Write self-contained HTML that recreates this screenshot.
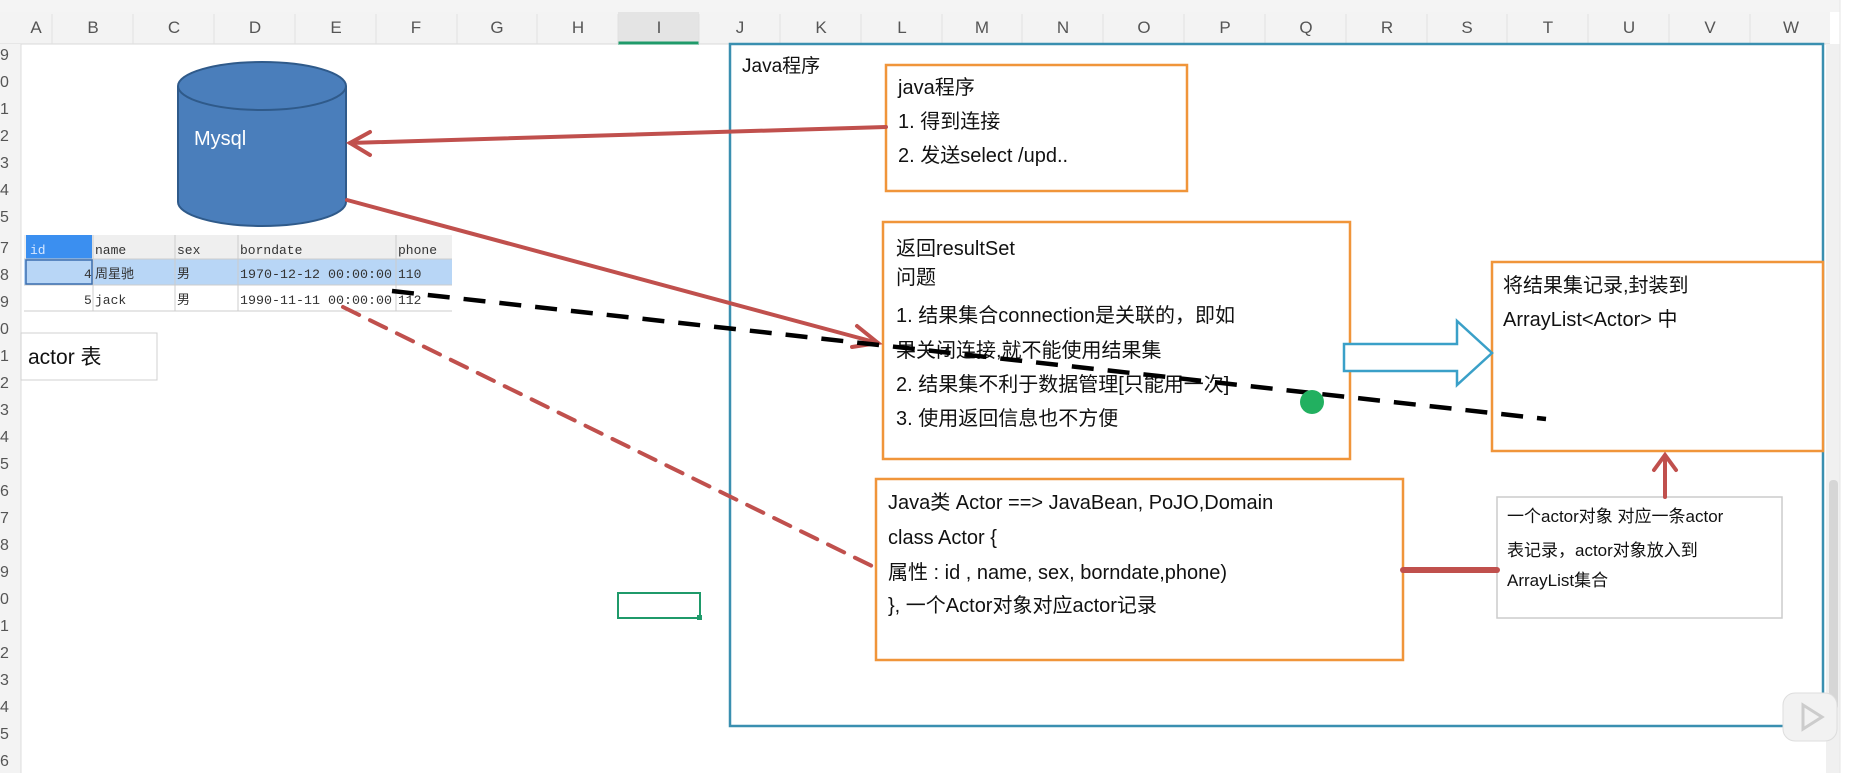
<!DOCTYPE html>
<html><head><meta charset="utf-8"><style>
html,body{margin:0;padding:0;background:#fff;}
body{width:1864px;height:773px;overflow:hidden;position:relative;font-family:"Liberation Sans","Noto Sans CJK SC",sans-serif;}
svg{position:absolute;left:0;top:0;}
text{font-family:"Liberation Sans","Noto Sans CJK SC",sans-serif;}
.m{font-family:"Liberation Mono","Noto Sans CJK SC",monospace;font-size:13px;fill:#333;}
.b{font-size:20px;fill:#111;}
</style></head><body>
<svg width="1864" height="773" viewBox="0 0 1864 773">
<rect x="0" y="0" width="1864" height="12" fill="#f4f4f4"/>
<rect x="0" y="12" width="1830" height="32" fill="#f3f3f3"/>
<line x1="0" y1="44" x2="1830" y2="44" stroke="#d8d8d8"/>
<rect x="618" y="12" width="81" height="32" fill="#e4e4e4"/>
<line x1="618" y1="43" x2="699" y2="43" stroke="#1f9a6a" stroke-width="3"/>
<g fill="#555" font-size="17" text-anchor="middle">
<text x="36" y="33">A</text><text x="93" y="33">B</text><text x="174" y="33">C</text><text x="255" y="33">D</text><text x="336" y="33">E</text><text x="416" y="33">F</text><text x="497" y="33">G</text><text x="578" y="33">H</text><text x="659" y="33">I</text><text x="740" y="33">J</text><text x="821" y="33">K</text><text x="902" y="33">L</text><text x="982" y="33">M</text><text x="1063" y="33">N</text><text x="1144" y="33">O</text><text x="1225" y="33">P</text><text x="1306" y="33">Q</text><text x="1387" y="33">R</text><text x="1467" y="33">S</text><text x="1548" y="33">T</text><text x="1629" y="33">U</text><text x="1710" y="33">V</text><text x="1791" y="33">W</text>
</g>
<g stroke="#e0e0e0">
<line x1="52" y1="14" x2="52" y2="44"/><line x1="133" y1="14" x2="133" y2="44"/><line x1="214" y1="14" x2="214" y2="44"/><line x1="295" y1="14" x2="295" y2="44"/><line x1="376" y1="14" x2="376" y2="44"/><line x1="457" y1="14" x2="457" y2="44"/><line x1="537" y1="14" x2="537" y2="44"/><line x1="618" y1="14" x2="618" y2="44"/><line x1="699" y1="14" x2="699" y2="44"/><line x1="780" y1="14" x2="780" y2="44"/><line x1="861" y1="14" x2="861" y2="44"/><line x1="942" y1="14" x2="942" y2="44"/><line x1="1022" y1="14" x2="1022" y2="44"/><line x1="1103" y1="14" x2="1103" y2="44"/><line x1="1184" y1="14" x2="1184" y2="44"/><line x1="1265" y1="14" x2="1265" y2="44"/><line x1="1346" y1="14" x2="1346" y2="44"/><line x1="1427" y1="14" x2="1427" y2="44"/><line x1="1507" y1="14" x2="1507" y2="44"/><line x1="1588" y1="14" x2="1588" y2="44"/><line x1="1669" y1="14" x2="1669" y2="44"/><line x1="1750" y1="14" x2="1750" y2="44"/>
</g>
<rect x="0" y="44" width="21" height="729" fill="#f3f3f3"/>
<line x1="21" y1="44" x2="21" y2="773" stroke="#ddd"/>
<g fill="#555" font-size="16">
<text x="0" y="60">9</text><text x="0" y="87">0</text><text x="0" y="114">1</text><text x="0" y="141">2</text><text x="0" y="168">3</text><text x="0" y="195">4</text><text x="0" y="222">5</text><text x="0" y="253">7</text><text x="0" y="280">8</text><text x="0" y="307">9</text><text x="0" y="334">0</text><text x="0" y="361">1</text><text x="0" y="388">2</text><text x="0" y="415">3</text><text x="0" y="442">4</text><text x="0" y="469">5</text><text x="0" y="496">6</text><text x="0" y="523">7</text><text x="0" y="550">8</text><text x="0" y="577">9</text><text x="0" y="604">0</text><text x="0" y="631">1</text><text x="0" y="658">2</text><text x="0" y="685">3</text><text x="0" y="712">4</text><text x="0" y="739">5</text><text x="0" y="766">6</text>
</g>
<rect x="1826" y="44" width="14" height="729" fill="#f0f0f0"/>
<rect x="1829" y="480" width="9" height="230" rx="4" fill="#d6d6d6"/>
<rect x="1840" y="0" width="24" height="773" fill="#fff"/>
<line x1="1840" y1="0" x2="1840" y2="773" stroke="#e6e6e6"/>

<rect x="730" y="44" width="1093" height="682" fill="none" stroke="#3a8fb0" stroke-width="2.5"/>
<text x="742" y="72" font-size="19" fill="#111">Java程序</text>

<path d="M178 86 L178 202 A84 24 0 0 0 346 202 L346 86" fill="#4a7ebb" stroke="#2f5a8a" stroke-width="2"/>
<ellipse cx="262" cy="86" rx="84" ry="24" fill="#4a7ebb" stroke="#2f5a8a" stroke-width="2"/>
<text x="194" y="145" font-size="20" fill="#fff">Mysql</text>

<rect x="24" y="235" width="428" height="76" fill="#fff"/>
<rect x="24" y="235" width="428" height="24" fill="#efefef"/>
<rect x="26" y="235" width="66" height="24" fill="#3b8ff0"/>
<rect x="24" y="259" width="428" height="26" fill="#b8d6f6"/>
<g stroke="#ccc"><line x1="24" y1="259" x2="452" y2="259"/><line x1="24" y1="285" x2="452" y2="285"/><line x1="24" y1="311" x2="452" y2="311"/>
<line x1="93" y1="235" x2="93" y2="311"/><line x1="175" y1="235" x2="175" y2="311"/><line x1="238" y1="235" x2="238" y2="311"/><line x1="396" y1="235" x2="396" y2="311"/></g>
<rect x="26" y="260" width="66" height="24" fill="none" stroke="#3b6fb0" stroke-width="1.5"/>
<text class="m" x="30" y="254" style="fill:#d8e8ff">id</text>
<text class="m" x="95" y="254">name</text><text class="m" x="177" y="254">sex</text><text class="m" x="240" y="254">borndate</text><text class="m" x="398" y="254">phone</text>
<text class="m" x="84" y="278">4</text><text class="m" x="95" y="278">周星驰</text><text class="m" x="177" y="278">男</text><text class="m" x="240" y="278" textLength="152" lengthAdjust="spacingAndGlyphs">1970-12-12 00:00:00</text><text class="m" x="398" y="278">110</text>
<text class="m" x="84" y="304">5</text><text class="m" x="95" y="304">jack</text><text class="m" x="177" y="304">男</text><text class="m" x="240" y="304" textLength="152" lengthAdjust="spacingAndGlyphs">1990-11-11 00:00:00</text><text class="m" x="398" y="304">112</text>

<rect x="21" y="333" width="136" height="47" fill="#fff" stroke="#d0d0d0"/>
<text x="28" y="364" font-size="21" fill="#111">actor 表</text>

<rect x="618" y="593" width="82" height="25" fill="none" stroke="#1f9a6a" stroke-width="2"/>
<rect x="697" y="615" width="5" height="5" fill="#1f9a6a"/>

<rect x="886" y="65" width="301" height="126" fill="#fff" stroke="#f0953a" stroke-width="2.5"/>
<text class="b" x="898" y="94">java程序</text>
<text class="b" x="898" y="128">1. 得到连接</text>
<text class="b" x="898" y="162">2. 发送select /upd..</text>

<rect x="883" y="222" width="467" height="237" fill="#fff" stroke="#f0953a" stroke-width="2.5"/>
<text class="b" x="896" y="255">返回resultSet</text>
<text class="b" x="896" y="284">问题</text>
<text class="b" x="896" y="322">1. 结果集合connection是关联的，即如</text>
<text class="b" x="896" y="357">果关闭连接,就不能使用结果集</text>
<text class="b" x="896" y="391">2. 结果集不利于数据管理[只能用一次]</text>
<text class="b" x="896" y="425">3. 使用返回信息也不方便</text>

<rect x="1492" y="262" width="331" height="189" fill="#fff" stroke="#f0953a" stroke-width="2.5"/>
<text class="b" x="1503" y="292">将结果集记录,封装到</text>
<text class="b" x="1503" y="326">ArrayList&lt;Actor&gt; 中</text>

<rect x="876" y="479" width="527" height="181" fill="#fff" stroke="#f0953a" stroke-width="2.5"/>
<text class="b" x="888" y="509">Java类 Actor  ==&gt; JavaBean, PoJO,Domain</text>
<text class="b" x="888" y="544">class Actor {</text>
<text class="b" x="888" y="579">属性 : id , name, sex, borndate,phone)</text>
<text class="b" x="888" y="612">}, 一个Actor对象对应actor记录</text>

<rect x="1497" y="497" width="285" height="121" fill="#fff" stroke="#ccc" stroke-width="1.5"/>
<svg x="1497" y="497" width="284" height="121"><text x="10" y="25" font-size="17" fill="#111">一个actor对象 对应一条actor</text></svg>
<text x="1507" y="556" font-size="17" fill="#111">表记录，actor对象放入到</text>
<text x="1507" y="586" font-size="17" fill="#111">ArrayList集合</text>

<g stroke="#c0504d" stroke-width="4" fill="none" stroke-linecap="round">
<line x1="886" y1="127" x2="350" y2="143"/>
<polyline points="370,132 350,143 370,155"/>
<line x1="347" y1="200" x2="878" y2="343"/>
<polyline points="857,326 878,343 852,347"/>
<line x1="343" y1="307" x2="874" y2="567" stroke-dasharray="18,12"/>
<line x1="1403" y1="570" x2="1497" y2="570" stroke-width="6"/>
<line x1="1665" y1="497" x2="1665" y2="456"/>
<polyline points="1654,470 1665,455 1676,470"/>
</g>
<line x1="392" y1="291" x2="1546" y2="419" stroke="#000" stroke-width="4.5" stroke-dasharray="22,14"/>
<polygon points="1344,344 1457,344 1457,321 1492,353 1457,385 1457,371 1344,371" fill="#fff" stroke="#3aa0c8" stroke-width="2.5"/>
<circle cx="1312" cy="402" r="12" fill="#22b060"/>
<rect x="1783" y="693" width="54" height="48" rx="12" fill="#f2f2f2" stroke="#ddd"/>
<polygon points="1803,705 1822,717 1803,729" fill="none" stroke="#ccc" stroke-width="3"/>
</svg>
</body></html>
